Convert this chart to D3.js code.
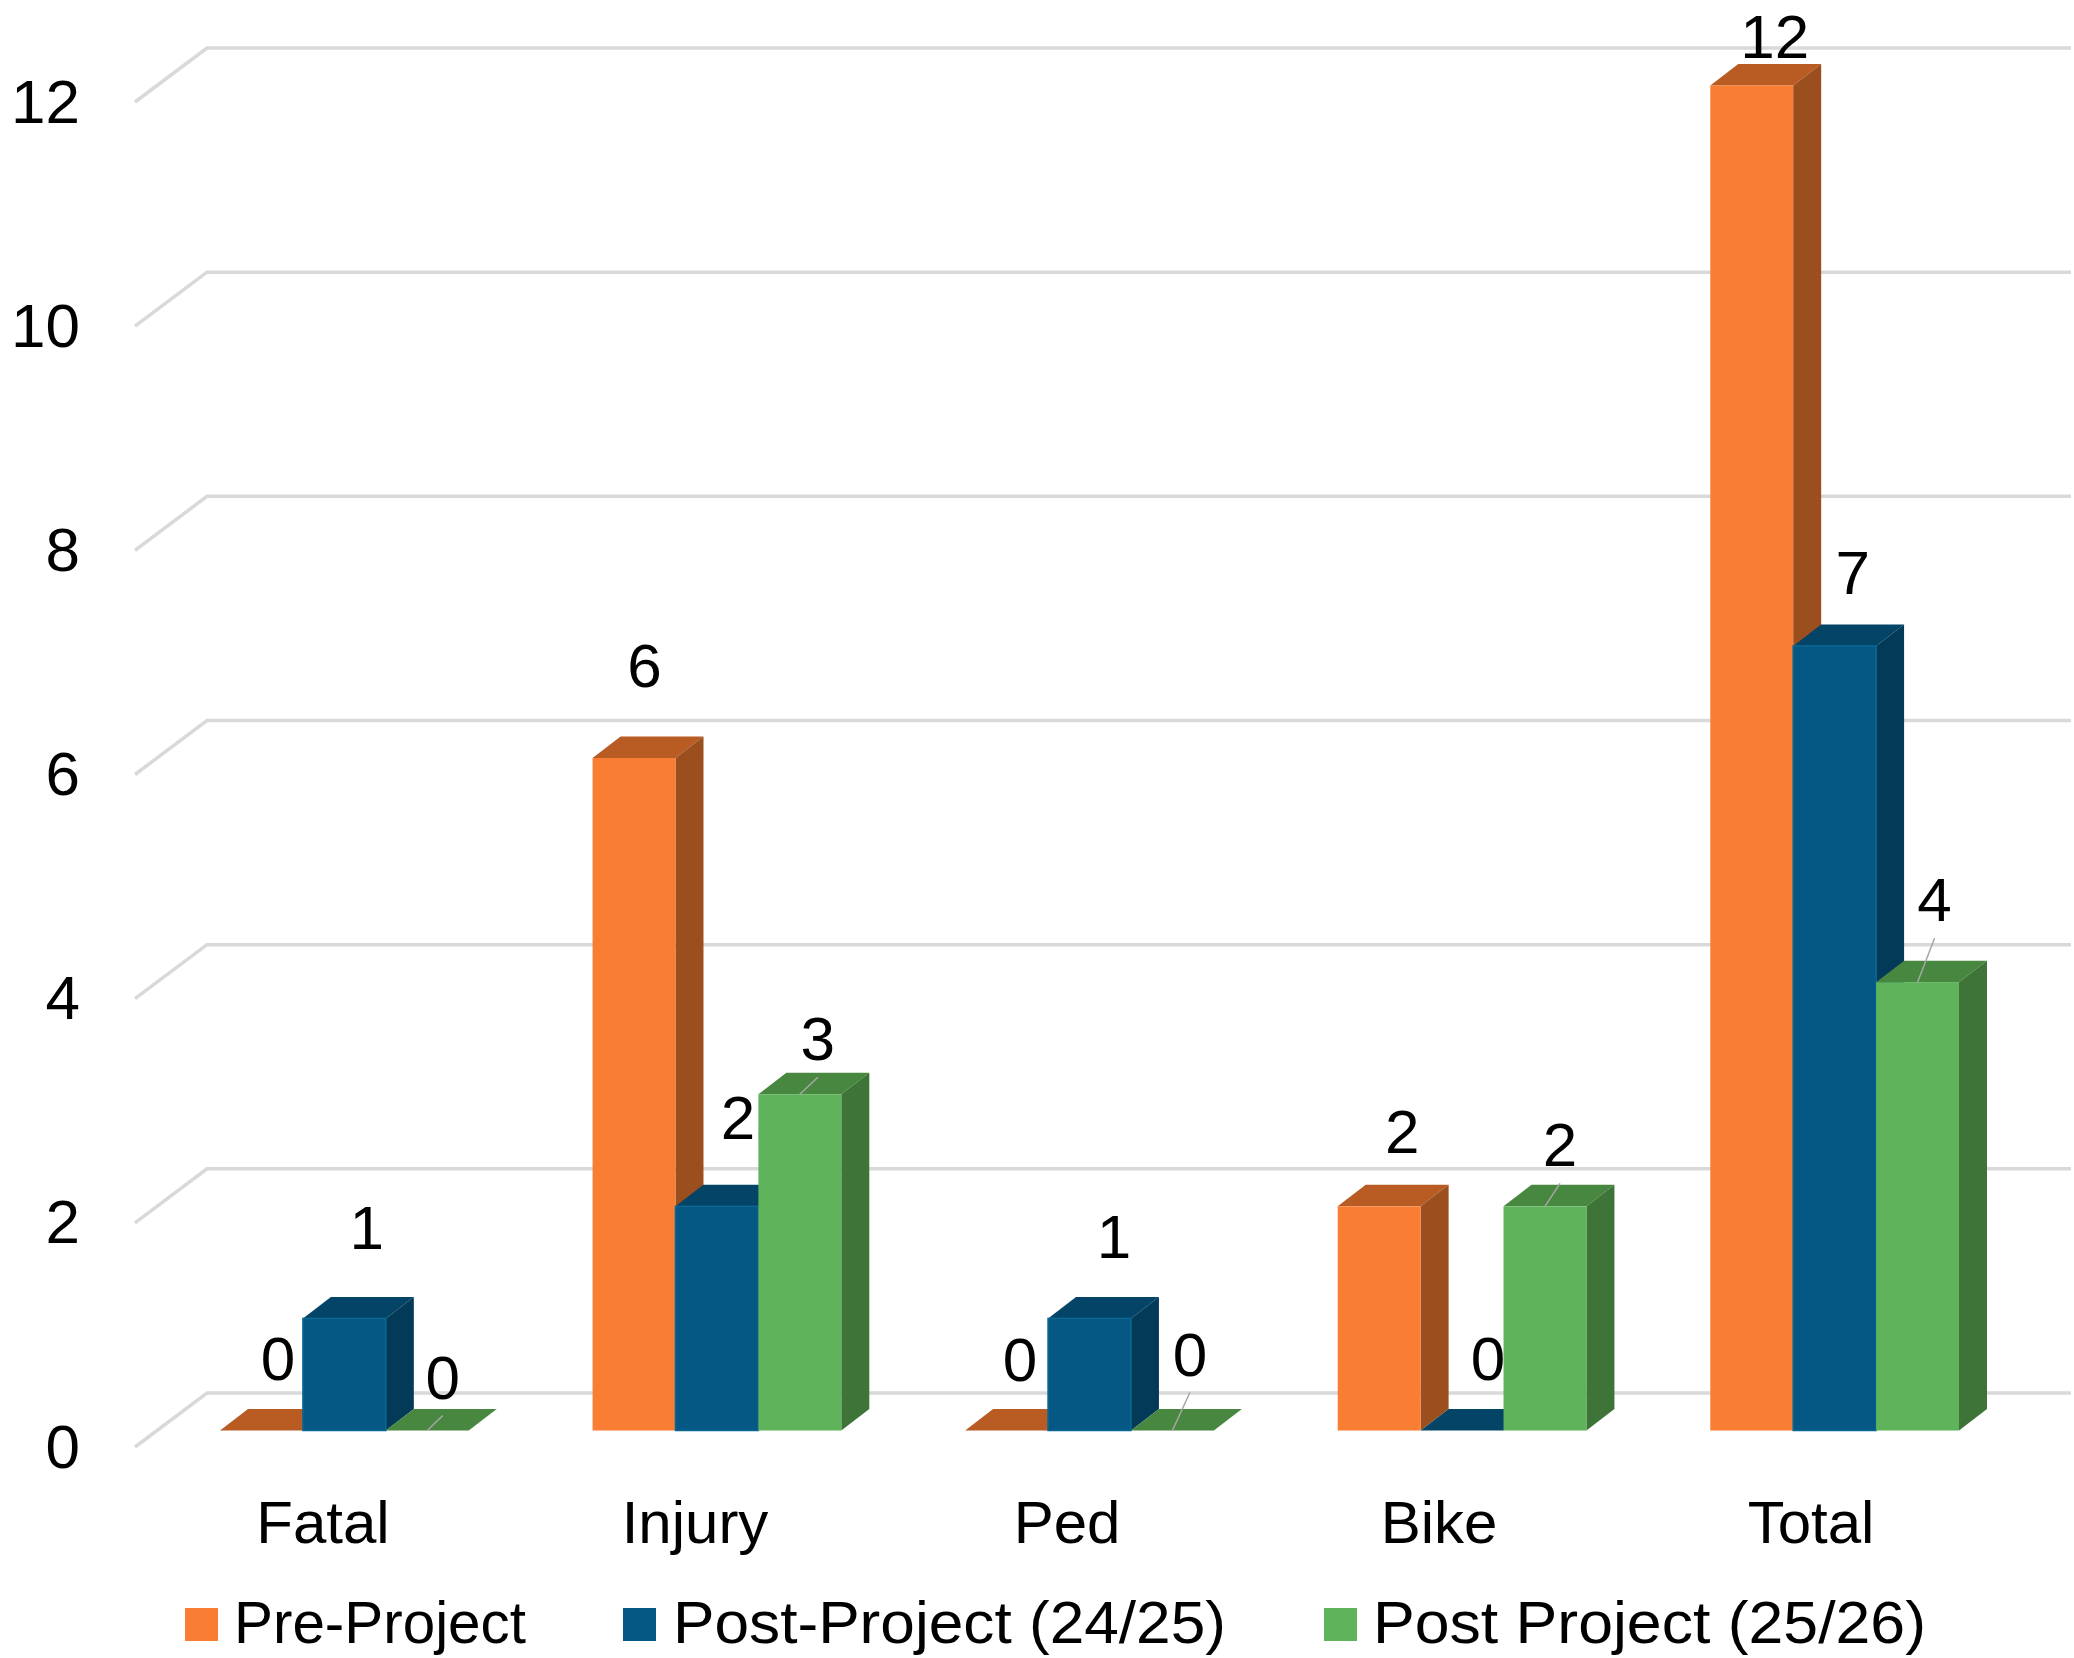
<!DOCTYPE html>
<html>

<head>
    <meta charset="utf-8">
    <title>Crashes before and after project</title>
    <style type="text/css">
    body {
        margin: 0;
        background: #fff;
    }

    text {
        font-family: "Liberation Sans", sans-serif;
        font-size: 60px;
        fill: #000;
    }

    .number text,
    text.number {
        font-size: 62px;
    }

    .axis path {
        display: none;
    }

    .grid path {
        fill: none;
        stroke: #d9d9d9;
        stroke-width: 3.5px;
    }

    .leader {
        stroke: #a6a6a6;
        stroke-width: 1.5px;
    }
    </style>
</head>

<body>
    <script src="https://cdn.jsdelivr.net/npm/d3@7"></script>
    <script>
    var categories = ["Fatal", "Injury", "Ped", "Bike", "Total"];
    var seriesNames = ["Pre-Project", "Post-Project (24/25)", "Post Project (25/26)"];
    var preProject = [0, 6, 0, 2, 12];
    var post2425 = [1, 2, 1, 0, 7];
    var post2526 = [0, 3, 0, 2, 4];
    var yTicks = [0, 2, 4, 6, 8, 10, 12];

    var seriesValues = [preProject, post2425, post2526];

    // front, top, side
    var seriesColors = [
        ["#f97d33", "#b85c24", "#9c4f1e"],
        ["#045883", "#034467", "#023a58"],
        ["#5fb35b", "#48873f", "#3f7439"]
    ];
    var seriesStroke = [null, "#0b6794", null];

    // label offsets from the top centre of each bar front, by series then category
    var labelNudge = [
        [[16.5, -51], [10.5, -71], [13.5, -50], [23, -53], [23, -28]],
        [[22.5, -69], [21, -67], [24.5, -60], [26, -51], [18, -52]],
        [[15.5, -32], [18, -34], [17.5, -55], [15, -40], [17, -61]]
    ];
    // only the green labels have a leader line
    var leaderSeries = 2;

    var width = 2074,
        height = 1658;

    var y = d3.scaleLinear()
        .domain([0, 12])
        .range([1393, 48]);

    var x0 = d3.scaleBand()
        .domain(categories)
        .range([220, 1959])
        .paddingInner(0.3324);

    var x1 = d3.scaleBand()
        .domain(d3.range(3))
        .range([0, x0.bandwidth()]);

    // front edge of the floor, the category labels are centred on this
    var xAxisScale = d3.scaleBand()
        .domain(categories)
        .range([137, 1997]);

    var floor = { dx: 72, dy: 54 },
        barDepth = { dx: 28, dy: 21.5 },
        barBase = 37.5;

    var svg = d3.select("body").append("svg")
        .attr("width", width)
        .attr("height", height);

    svg.append("g")
        .attr("class", "grid")
        .selectAll("path")
        .data(yTicks)
        .enter().append("path")
        .attr("d", function(d) {
            return "M135," + (y(d) + floor.dy) + "L" + (135 + floor.dx) + "," + y(d) + "L2071," + y(d);
        });

    var yAxis = svg.append("g")
        .attr("class", "axis number")
        .attr("transform", "translate(80," + floor.dy + ")")
        .call(d3.axisLeft(y).tickValues(yTicks).tickSize(0).tickPadding(0));

    yAxis.selectAll("text").attr("dy", 20);

    var xAxis = svg.append("g")
        .attr("class", "axis")
        .attr("transform", "translate(0,1500)")
        .call(d3.axisBottom(xAxisScale).tickSize(0));

    xAxis.selectAll("text").attr("y", 43).attr("dy", 0);

    function poly(points) {
        return points.map(function(p) { return p.join(","); }).join(" ");
    }

    var barWidth = x1.bandwidth();

    var series = svg.selectAll(".series")
        .data(seriesValues)
        .enter().append("g")
        .attr("class", "series");

    var bars = series.selectAll(".bar")
        .data(function(values, s) {
            return values.map(function(v, c) {
                return {
                    s: s,
                    c: c,
                    value: v,
                    x: x0(categories[c]) + x1(s),
                    top: y(v) + barBase,
                    base: y(0) + barBase
                };
            });
        })
        .enter().append("g")
        .attr("class", "bar");

    bars.append("polygon")
        .attr("fill", function(d) { return seriesColors[d.s][1]; })
        .attr("points", function(d) {
            return poly([[d.x, d.top], [d.x + barDepth.dx, d.top - barDepth.dy],
                [d.x + barWidth + barDepth.dx, d.top - barDepth.dy], [d.x + barWidth, d.top]]);
        });

    bars.append("polygon")
        .attr("fill", function(d) { return seriesColors[d.s][2]; })
        .attr("points", function(d) {
            return poly([[d.x + barWidth, d.top], [d.x + barWidth + barDepth.dx, d.top - barDepth.dy],
                [d.x + barWidth + barDepth.dx, d.base - barDepth.dy], [d.x + barWidth, d.base]]);
        });

    bars.append("rect")
        .attr("x", function(d) { return d.x; })
        .attr("y", function(d) { return d.top; })
        .attr("width", barWidth)
        .attr("height", function(d) { return d.base - d.top; })
        .attr("fill", function(d) { return seriesColors[d.s][0]; })
        .attr("stroke", function(d) { return seriesStroke[d.s] || "none"; })
        .attr("stroke-width", 1.5);

    // labels go on top of every bar
    var labels = svg.append("g")
        .selectAll("g")
        .data(bars.data())
        .enter().append("g");

    labels.filter(function(d) { return d.s === leaderSeries; })
        .append("line")
        .attr("class", "leader")
        .attr("x1", function(d) { return d.x + barWidth / 2; })
        .attr("y1", function(d) { return d.top; })
        .attr("x2", function(d) { return d.x + barWidth / 2 + labelNudge[d.s][d.c][0]; })
        .attr("y2", function(d) { return d.top + labelNudge[d.s][d.c][1] + 17; });

    labels.append("text")
        .attr("class", "number")
        .attr("text-anchor", "middle")
        .attr("x", function(d) { return d.x + barWidth / 2 + labelNudge[d.s][d.c][0]; })
        .attr("y", function(d) { return d.top + labelNudge[d.s][d.c][1]; })
        .text(function(d) { return d.value; });

    // legend
    var legendX = [185, 623, 1324],
        legendTextX = [49, 50, 49],
        legendText = [292, 553, 553];

    var legend = svg.selectAll(".legend")
        .data(seriesNames)
        .enter().append("g")
        .attr("class", "legend")
        .attr("transform", function(d, i) { return "translate(" + legendX[i] + ",1608)"; });

    legend.append("rect")
        .attr("width", 33)
        .attr("height", 33)
        .attr("fill", function(d, i) { return seriesColors[i][0]; });

    legend.append("text")
        .attr("x", function(d, i) { return legendTextX[i]; })
        .attr("y", 35)
        .attr("textLength", function(d, i) { return legendText[i]; })
        .attr("lengthAdjust", "spacingAndGlyphs")
        .text(function(d) { return d; });
    </script>
</body>

</html>
